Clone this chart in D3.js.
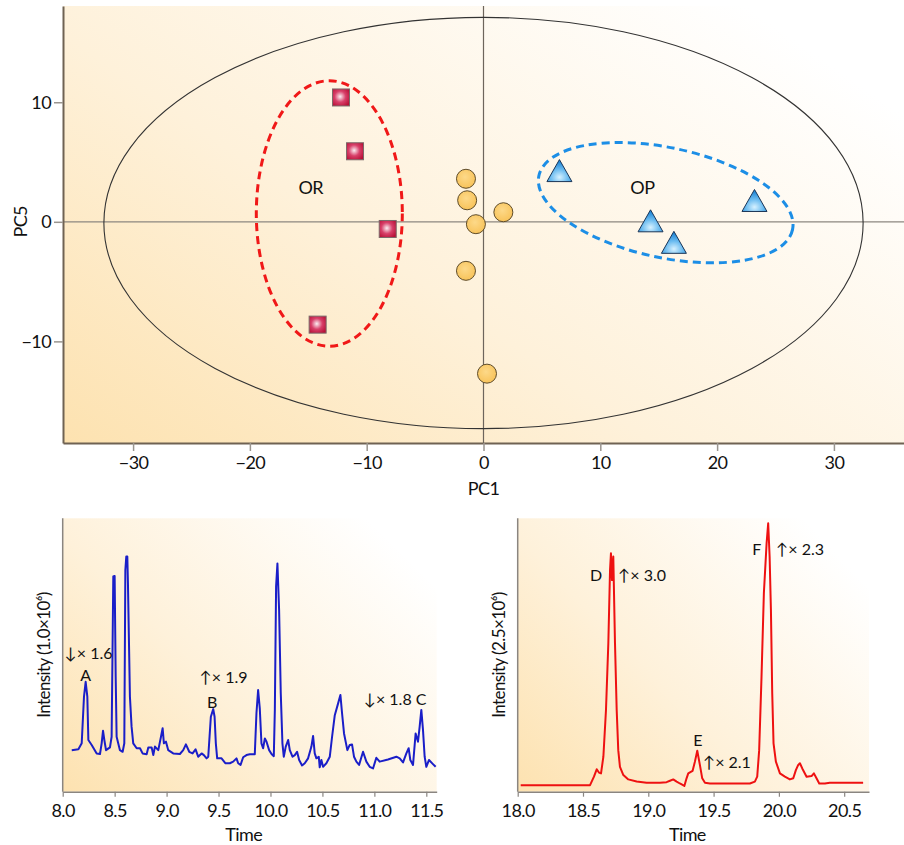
<!DOCTYPE html>
<html>
<head>
<meta charset="utf-8">
<script src="https://cdn.jsdelivr.net/npm/d3@7"></script>
<style>
  body { margin: 0; background: #fff; }
  text { font-family: Lato, "Open Sans", sans-serif; fill: #111; }
  .nar { font-family: Lato, sans-serif; letter-spacing: -0.6px; }
</style>
</head>
<body>
<div id="fig"></div>
<script>
// --- PCA scores (PC1, PC5) ---
const orX = [-12.2, -11.0, -8.2, -14.2]
const orY = [10.4, 5.9, -0.6, -8.6]
const qcX = [-1.5, -1.4, -0.65, 1.7, -1.5, 0.3]
const qcY = [3.6, 1.8, -0.2, 0.8, -4.1, -12.7]
const opX = [6.5, 23.2, 14.3, 16.3]
const opY = [4.2, 1.7, 0.0, -1.8]
const pcXTicks = [-30, -20, -10, 0, 10, 20, 30]
const pcYTicks = [-10, 0, 10]

// ellipses: [cx, cy, rx, ry, rotation deg]
const hotelling = [0, -0.1, 32.5, 17.2, 0]
const orEllipse = [-13.2, 0.7, 6.25, 11.1, 0]
const opEllipse = [15.6, 1.6, 11.1, 4.6, 12]

// --- chromatogram 1 ---
const t1 = [8.087,8.151,8.183,8.205,8.221,8.237,8.247,8.279,8.327,8.359,8.375,8.388,8.401,8.417,8.455,8.471,8.487,8.5,8.51,8.519,
  8.551,8.577,8.593,8.603,8.612,8.622,8.628,8.647,8.663,8.679,8.712,8.744,8.769,8.808,8.824,8.856,8.872,8.888,8.92,8.946,
  8.962,8.974,8.994,9.016,9.064,9.128,9.16,9.186,9.218,9.25,9.279,9.304,9.337,9.359,9.385,9.401,9.426,9.449,9.462,9.474,
  9.487,9.529,9.567,9.609,9.641,9.673,9.689,9.712,9.737,9.769,9.801,9.849,9.865,9.881,9.897,9.913,9.929,9.946,9.962,9.987,
  10.01,10.032,10.042,10.054,10.067,10.083,10.099,10.115,10.128,10.147,10.17,10.186,10.212,10.234,10.256,10.276,10.304,10.33,10.362,10.394,
  10.41,10.426,10.442,10.465,10.474,10.49,10.506,10.538,10.571,10.593,10.619,10.651,10.673,10.689,10.708,10.74,10.763,10.785,10.804,10.827,
  10.853,10.891,10.923,10.955,10.987,11.019,11.051,11.131,11.212,11.244,11.276,11.308,11.33,11.346,11.372,11.397,11.42,11.436,11.452,11.468,
  11.484,11.5,11.526,11.564,11.59]
const i1 = [15.2,15.5,17.7,34.8,40.2,34.8,18.9,17.1,14.0,13.8,17.7,22.3,18.9,15.2,16.2,20.1,78.7,78.9,42.1,20.1,
  15.2,14.6,17.7,81.1,86.0,86.0,76.2,34.8,23.8,17.7,15.9,15.9,14.0,13.7,16.2,16.2,13.4,16.5,15.2,20.1,
  23.2,17.7,18.3,15.2,14.0,13.8,15.2,17.3,14.6,14.0,15.5,12.8,14.0,13.4,12.2,12.8,27.4,30.2,27.4,17.7,
  12.2,12.2,10.4,10.4,11.0,12.2,10.4,9.8,12.6,13.4,13.7,13.7,28.7,37.2,30.5,17.7,15.9,19.5,18.3,15.2,
  13.8,13.0,29.9,75.0,83.5,66.5,36.0,17.7,12.8,16.5,18.9,15.2,12.8,13.4,14.6,11.6,9.6,10.4,12.2,16.5,
  20.4,14.0,12.2,12.8,8.9,11.6,9.1,10.4,12.8,20.1,28.0,32.3,35.4,28.7,21.3,15.2,17.1,17.3,12.8,11.0,
  9.8,14.6,11.0,9.1,8.5,12.4,11.0,11.8,12.8,12.2,10.7,14.0,15.9,11.6,9.8,21.3,18.3,23.8,29.9,22.6,
  12.8,9.1,11.6,10.1,9.1]
const t1Ticks = [8.0, 8.5, 9.0, 9.5, 10.0, 10.5, 11.0, 11.5]

// --- chromatogram 2 ---
const t2 = [18.023,18.554,18.584,18.605,18.622,18.638,18.656,18.676,18.694,18.707,18.714,18.722,18.732,18.745,18.758,18.77,18.783,18.809,18.847,18.911,
  18.987,19.089,19.14,19.166,19.191,19.217,19.242,19.276,19.293,19.306,19.339,19.357,19.375,19.395,19.413,19.434,19.472,19.625,19.778,19.816,
  19.834,19.849,19.867,19.885,19.906,19.918,19.929,19.939,19.949,19.959,19.977,20.008,20.046,20.084,20.11,20.13,20.148,20.161,20.179,20.212,
  20.25,20.268,20.288,20.309,20.352,20.39,20.492,20.645]
const i2 = [2.4,2.4,5.5,8.2,7.0,6.7,12.8,29.9,54.3,81.1,87.2,77.4,86.0,54.3,29.9,15.2,9.1,6.1,4.5,3.7,
  3.3,3.3,3.5,4.0,4.5,3.7,3.0,2.1,4.9,6.7,7.6,11.0,15.0,9.8,4.9,3.3,3.0,3.0,3.0,3.7,
  5.5,15.2,42.1,72.6,90.9,98.2,86.0,66.5,36.0,17.7,11.0,6.7,5.5,4.5,4.9,7.9,9.8,10.4,8.5,5.5,
  5.7,6.7,4.9,3.0,3.0,3.3,3.3,3.3]
const t2Ticks = [18.0, 18.5, 19.0, 19.5, 20.0, 20.5]

const svg = d3.select('#fig').append('svg')
  .attr('width', 904).attr('height', 845)

const defs = svg.append('defs')

function bgGrad(id) {
  let g = defs.append('linearGradient').attr('id', id)
    .attr('x1', 0).attr('y1', 1).attr('x2', 1).attr('y2', 0.25)
  g.append('stop').attr('offset', 0).attr('stop-color', '#fde2b0')
  g.append('stop').attr('offset', 0.45).attr('stop-color', '#fef1da')
  g.append('stop').attr('offset', 1).attr('stop-color', '#ffffff')
}
bgGrad('bgTop'); bgGrad('bgL'); bgGrad('bgR')

let sq = defs.append('radialGradient').attr('id', 'sqG').attr('cx', 0.45).attr('cy', 0.45).attr('r', 0.65)
sq.append('stop').attr('offset', 0).attr('stop-color', '#fbeef2')
sq.append('stop').attr('offset', 0.5).attr('stop-color', '#d8406a')
sq.append('stop').attr('offset', 1).attr('stop-color', '#b80f36')

let ci = defs.append('radialGradient').attr('id', 'ciG').attr('cx', 0.45).attr('cy', 0.4).attr('r', 0.6)
ci.append('stop').attr('offset', 0).attr('stop-color', '#fdd989')
ci.append('stop').attr('offset', 1).attr('stop-color', '#f8c35a')

let tr = defs.append('radialGradient').attr('id', 'trG').attr('cx', 0.5).attr('cy', 0.8).attr('r', 0.7)
tr.append('stop').attr('offset', 0).attr('stop-color', '#d6f1ff')
tr.append('stop').attr('offset', 0.5).attr('stop-color', '#6cbcf0')
tr.append('stop').attr('offset', 1).attr('stop-color', '#1f86d6')

// ================= top: PCA scores =================
const x = d3.scaleLinear().domain([-36, 36]).range([63, 904])
const y = d3.scaleLinear().domain([-18.5, 18.05]).range([443, 6])

const pca = svg.append('g')
pca.append('rect')
  .attr('x', x(-36)).attr('y', y(18.05))
  .attr('width', x(36) - x(-36)).attr('height', y(-18.5) - y(18.05))
  .attr('fill', 'url(#bgTop)')

// zero lines
pca.append('line').attr('x1', x(-36)).attr('x2', x(36)).attr('y1', y(0)).attr('y2', y(0))
  .attr('stroke', '#8c8780').attr('stroke-width', 1.3)
pca.append('line').attr('x1', x(0)).attr('x2', x(0)).attr('y1', y(18.05)).attr('y2', y(-18.5))
  .attr('stroke', '#6d655c').attr('stroke-width', 1.2)

function ell(g, e) {
  return g.append('ellipse')
    .attr('cx', x(e[0])).attr('cy', y(e[1]))
    .attr('rx', x(e[0] + e[2]) - x(e[0]))
    .attr('ry', y(e[1]) - y(e[1] + e[3]))
    .attr('transform', `rotate(${e[4]},${x(e[0])},${y(e[1])})`)
    .attr('fill', 'none')
}
ell(pca, hotelling).attr('stroke', '#333').attr('stroke-width', 1.1)
ell(pca, orEllipse).attr('stroke', '#f01818').attr('stroke-width', 3).attr('stroke-dasharray', '8,5')
ell(pca, opEllipse).attr('stroke', '#1c8ee6').attr('stroke-width', 3).attr('stroke-dasharray', '8,5')

pca.append('text').attr('class', 'nar').attr('x', x(-14.8)).attr('y', y(2.9)).attr('text-anchor', 'middle')
  .attr('dominant-baseline', 'central').attr('font-size', 18).text('OR')
pca.append('text').attr('class', 'nar').attr('x', x(13.6)).attr('y', y(2.9)).attr('text-anchor', 'middle')
  .attr('dominant-baseline', 'central').attr('font-size', 18).text('OP')

// squares
pca.selectAll('rect.or').data(orX).enter().append('rect').attr('class', 'or')
  .attr('x', (d) => x(d) - 8.5).attr('y', (d, i) => y(orY[i]) - 8.5)
  .attr('width', 17).attr('height', 17)
  .attr('fill', 'url(#sqG)').attr('stroke', '#7b6a6a').attr('stroke-width', 1)

// circles
pca.selectAll('circle.qc').data(qcX).enter().append('circle').attr('class', 'qc')
  .attr('cx', (d) => x(d)).attr('cy', (d, i) => y(qcY[i]))
  .attr('r', 9.5)
  .attr('fill', 'url(#ciG)').attr('stroke', '#5e4b28').attr('stroke-width', 1)

// triangles
pca.selectAll('path.op').data(opX).enter().append('path').attr('class', 'op')
  .attr('d', (d, i) => {
    let cx = x(d), cy = y(opY[i])
    return `M${cx},${cy - 12}L${cx + 12.5},${cy + 10}L${cx - 12.5},${cy + 10}Z`
  })
  .attr('fill', 'url(#trG)').attr('stroke', '#1b3556').attr('stroke-width', 1)

// axes
let xa = pca.append('g').attr('transform', `translate(0,${y(-18.5)})`)
  .call(d3.axisBottom(x).tickValues(pcXTicks).tickSize(8).tickSizeOuter(0).tickPadding(5))
let ya = pca.append('g').attr('transform', `translate(${x(-36)},0)`)
  .call(d3.axisLeft(y).tickValues(pcYTicks).tickSize(9).tickSizeOuter(0).tickPadding(3))
;[xa, ya].forEach((a) => {
  a.select('.domain').attr('stroke', '#6f6253').attr('stroke-width', 2)
  a.selectAll('.tick line').attr('stroke', '#9a958f').attr('stroke-width', 1.5)
  a.selectAll('.tick text').attr('class', 'nar').attr('font-size', 18).attr('font-family', null).attr('fill', '#111')
})
pca.append('text').attr('class', 'nar').attr('x', x(0)).attr('y', 495).attr('text-anchor', 'middle')
  .attr('font-size', 18).text('PC1')
pca.append('text').attr('class', 'nar').attr('transform', `translate(27,${y(0)}) rotate(-90)`).attr('text-anchor', 'middle')
  .attr('font-size', 18).text('PC5')

// ================= chromatograms =================
function chrom(opts) {
  const g = svg.append('g')
  const sx = d3.scaleLinear().domain(opts.xd).range(opts.xr)
  const sy = d3.scaleLinear().domain([0, 100]).range([791.7, 518.3])
  g.append('rect').attr('x', opts.xr[0]).attr('y', sy(100))
    .attr('width', opts.xr[1] - opts.xr[0]).attr('height', sy(0) - sy(100))
    .attr('fill', `url(#${opts.bg})`)
  g.append('path').datum(opts.t)
    .attr('d', d3.line().x((d) => sx(d)).y((d, i) => sy(opts.v[i])))
    .attr('fill', 'none').attr('stroke', opts.color).attr('stroke-width', 2)
    .attr('stroke-linejoin', 'round')
  let ax = g.append('g').attr('transform', `translate(0,${sy(0)})`)
    .call(d3.axisBottom(sx).tickValues(opts.ticks).tickFormat(d3.format('.1f'))
      .tickSize(5).tickSizeOuter(0).tickPadding(8))
  ax.select('.domain').attr('stroke', '#8a8580').attr('stroke-width', 1.5)
  ax.selectAll('.tick line').attr('stroke', '#8a8580').attr('stroke-width', 1.2)
  ax.selectAll('.tick text').attr('class', 'nar').attr('font-size', 18).attr('font-family', null).attr('fill', '#111')
  g.append('line').attr('x1', opts.xr[0]).attr('x2', opts.xr[0])
    .attr('y1', sy(0)).attr('y2', sy(100)).attr('stroke', '#8a8580').attr('stroke-width', 1.5)
  g.append('text').attr('class', 'nar').attr('x', (opts.xr[0] + opts.xr[1]) / 2 - 6).attr('y', 841)
    .attr('text-anchor', 'middle').attr('font-size', 18).text('Time')
  g.append('text').attr('class', 'nar').attr('transform', `translate(${opts.xr[0] - 13},655) rotate(-90)`)
    .attr('text-anchor', 'middle').attr('font-size', 17).text(opts.ylab)
  opts.notes.forEach((n) => {
    g.append('text').attr('x', sx(n[0])).attr('y', sy(n[1]))
      .attr('text-anchor', n[3] || 'start').attr('dominant-baseline', 'central')
      .attr('font-size', 16).text(n[2])
  })
}

chrom({
  xd: [8, 11.6], xr: [62.7, 436.7], ticks: t1Ticks, t: t1, v: i1,
  color: '#1a1ec8', bg: 'bgL', ylab: 'Intensity (1.0×10⁶)',
  notes: [[8.02, 51, '↓× 1.6'], [8.22, 43, 'A', 'middle'], [9.32, 42, '↑× 1.9'],
          [9.44, 33, 'B', 'middle'], [10.9, 34, '↓× 1.8 C']]
})
chrom({
  xd: [18, 20.69], xr: [517.7, 869], ticks: t2Ticks, t: t2, v: i2,
  color: '#ee1111', bg: 'bgR', ylab: 'Intensity (2.5×10⁶)',
  notes: [[18.6, 79.5, 'D', 'middle'], [18.77, 79.5, '↑× 3.0'],
          [19.38, 19, 'E', 'middle'], [19.42, 11, '↑× 2.1'],
          [19.83, 88.9, 'F', 'middle'], [19.98, 88.9, '↑× 2.3']]
})
</script>
</body>
</html>
